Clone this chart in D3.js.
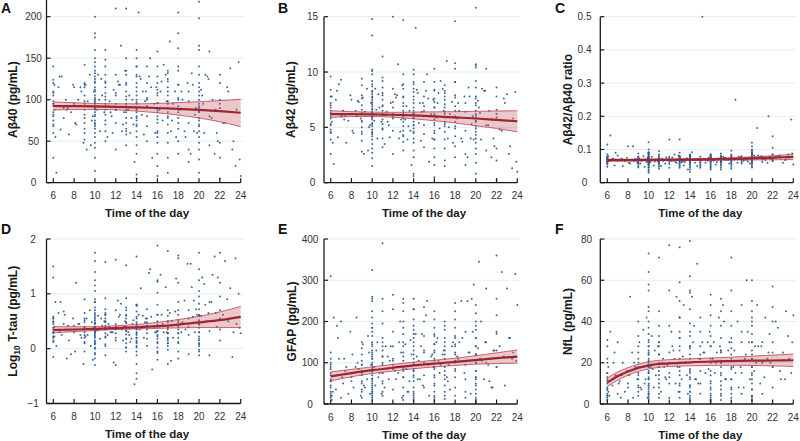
<!DOCTYPE html>
<html><head><meta charset="utf-8">
<script src="https://cdn.jsdelivr.net/npm/d3@7/dist/d3.min.js"></script>
<style>body{margin:0;background:#fff}svg{display:block;font-family:"Liberation Sans",Arial,Helvetica,sans-serif}</style>
</head><body><svg id="c" width="800" height="441"></svg>
<script>
// ---- data ----
const times = [
6,6,6,6,6,6,6,6,6,6.1,
6,6,6.1,6,6,6.3,6.5,6.7,6.8,7,
7,7.2,7.5,7.7,7.9,8,8.2,8.5,8.7,8.9,
9,9,9,9,9,9,9,9,9,9,
9.3,9.5,9.6,9.8,9.9,10,10,10,10,10,
10,10,10,10,10,10,10,10,10,10,
10,10,10,10,10,10,10,10,10,10,
10,10,10,10,10,10.2,10.3,10.5,10.7,10.9,
11,11,11,11,11,11,11,11,11,11,
11,11,11,11.2,11.4,11.6,11.8,12,12,12,
12,12,12,12,12.3,12.5,12.7,12.9,13,13,
13,13,13,13,13,13,13,13,13,13,
13,13,13.2,13.4,13.6,13.8,14,14,14,14,
14,14,14,14,14,14,14,14,14,14,
14,14,14,14,14,14.2,14.4,14.5,14.7,14.9,
15,15,15,15,15,15,15,15.3,15.5,15.7,
15.9,16,16,16,16,16,16,16,16,16,
16,16,16,16,16,16.3,16.5,16.8,17,17,
17,17,17,17,17,17,17,17,17,17,
17,17.2,17.5,17.8,18,18,18,18,18,18,
18,18,18,18,18,18,18.3,18.6,18.9,19,
19,19,19,19,19.3,19.6,19.8,20,20,20,
20,20,20,20,20,20,20,20,20,20,
20,20,20,20,20,20.3,20.5,20.8,21,21,
21,21.3,21.6,22,22,22,22,22,22,22.5,
22.8,23,23.3,23.5,23.8,24,21.5,19.5,8,7.3,
6.2,6.6,7.1,8.1,8.4,9.1,9.2,11.5,12.2,12.6,
13.5,14.6,15.2,16.6,17.3,18.4,19.2,20.6,21.8,23.2,
10,10,10,10,10,10,10,10,10,10,
11,11,11,11,11,13,13,13,13,13,
14,14,14,14,14,14,14,14,16,16,
16,16,16,16,16,17,17,17,17,17,
18,18,18,18,18,20,20,20,20,20,
20,20,20,9,9,9,9,12,12,15,
6,6,6,6,6,7.4,8.6,9.7,10.4,10.6,
11.3,11.7,12.4,12.8,13.3,13.7,14.3,14.8,15.4,15.8,
16.2,16.4,16.9,17.4,17.7,18.2,18.7,19.4,19.7,20.2,
20.4,20.9,21.2,21.7,22,22,22.3,22.7,23.6,23.9];

const abeta40 = [
85,92,110,75,60,124,140,98,30,88, 70,105,118,95,82,12,115,64,128,90,
78,100,58,85,118,95,70,92,110,48, 120,95,78,142,60,88,105,72,115,52,
98,130,45,80,110,200,180,150,135,128, 120,110,105,98,92,88,85,80,75,70,
65,60,55,48,42,30,14,100,95,115, 140,125,90,72,160,88,130,62,105,85,
130,115,108,100,95,88,82,75,62,50, 160,140,120,55,98,80,112,210,130,88,
105,72,40,95,118,165,70,135,150,120, 110,100,92,85,78,72,65,58,118,210,
45,130,88,60,100,25,160,150,140,130, 120,110,100,95,90,85,80,75,70,62,
55,45,35,10,5,205,125,82,58,110, 140,120,100,92,80,68,50,150,30,95,
115,158,140,128,112,105,96,88,80,72, 60,48,35,20,8,110,75,130,135,125,
115,105,98,90,85,78,70,60,48,30, 12,170,95,55,205,180,162,140,118,100,
92,85,78,65,50,35,110,62,120,98, 40,72,110,25,132,82,60,218,198,165,
140,120,110,100,95,90,85,78,70,62, 55,48,40,28,12,105,60,128,80,45,
158,100,88,120,95,90,48,30,5,72, 110,138,50,20,145,8,35,62,115,88,
55,128,92,72,100,118,40,85,122,62, 78,110,128,142,62,100,35,130,50,40,
175,145,132,122,112,102,96,90,82,68, 148,122,104,92,70,135,104,95,88,62,
140,128,115,105,97,88,78,68,120,108, 96,85,76,62,55,132,122,110,95,80,
135,118,102,88,72,160,130,115,105,92, 86,75,68,118,98,82,65,108,88,102,
120,108,95,80,68,90,115,75,100,125, 92,60,118,85,105,70,128,98,115,60,
88,122,98,75,110,88,55,118,90,112, 95,125,78,60,130,100,72,115,88,28];

const abeta42 = [
6.5,5.8,7.2,4.8,3.9,8.4,9.6,6.0,2.6,5.5, 4.5,6.8,7.8,6.2,5.2,1.7,7.5,4.1,8.9,6.0,
9.3,6.5,3.6,5.6,7.9,6.2,4.5,6.0,7.3,5.8, 8.8,6.3,5.0,9.4,3.8,5.6,7.0,4.6,7.6,2.8,
6.4,8.5,2.9,5.2,7.2,13.3,14.8,10.2,8.7,8.3, 7.8,7.3,6.9,6.4,6.0,5.7,5.4,5.1,4.8,4.5,
4.2,3.9,3.5,3.1,2.7,2.2,1.5,6.6,6.2,7.5, 9.2,8.0,5.9,4.6,10.1,5.6,8.5,4.0,6.8,5.5,
8.6,7.5,7.0,6.5,6.2,5.7,5.3,4.8,4.0,3.2, 11.4,9.2,7.9,3.5,6.4,5.2,7.2,15.0,8.5,5.8,
6.8,4.7,2.6,6.2,7.7,10.7,4.6,8.8,9.8,7.8, 7.2,6.5,6.0,5.5,5.1,4.7,4.2,3.7,7.7,14.7,
2.9,8.5,5.7,3.9,6.5,1.6,10.2,9.8,9.1,8.5, 7.8,7.2,6.5,6.2,5.9,5.5,5.2,4.9,4.5,4.0,
3.6,2.9,2.3,0.8,0.6,14.0,8.1,5.4,3.8,7.2, 9.1,7.8,6.5,6.0,5.2,4.4,3.2,9.8,1.9,6.2,
7.5,10.3,9.1,8.3,7.3,6.8,6.2,5.7,5.2,4.7, 3.9,3.1,2.3,1.6,0.5,7.2,4.9,8.5,8.8,8.1,
7.5,6.8,6.4,5.9,5.5,5.1,4.6,3.9,3.1,2.0, 1.5,11.0,6.2,3.6,14.6,10.8,10.3,9.1,7.7,6.5,
6.0,5.5,5.1,4.2,3.3,2.3,7.2,4.0,7.8,6.4, 2.6,4.7,7.2,1.6,8.6,5.3,3.9,15.8,10.7,10.6,
9.2,7.8,7.2,6.5,6.2,5.9,5.5,5.1,4.6,4.0, 3.6,3.1,2.6,1.8,0.8,6.8,3.9,8.3,5.2,2.9,
10.3,6.5,5.7,7.8,6.2,5.9,3.1,2.0,0.3,4.7, 7.2,8.0,3.3,1.3,8.2,1.0,2.3,4.0,7.5,5.7,
3.6,8.3,6.0,4.7,6.5,7.7,2.6,5.5,8.0,4.0, 5.1,7.2,8.3,9.2,4.0,6.5,2.3,8.5,3.3,2.6,
9.8,8.9,8.2,7.7,7.1,6.7,6.3,5.9,5.3,4.4, 9.5,8.1,6.9,6.1,4.9,8.9,6.9,6.3,5.8,4.3,
8.9,8.2,7.5,6.8,6.3,5.8,5.2,4.6,8.4,7.6, 6.8,6.0,5.4,4.5,3.9,8.3,7.8,7.1,6.2,5.3,
9.1,7.9,6.9,5.9,4.9,10.4,8.6,7.6,7.0,6.1, 5.6,4.9,4.3,7.9,6.6,5.5,4.4,7.3,6.0,6.9,
7.8,7.0,6.3,5.3,4.6,6.0,7.4,5.0,6.6,8.0, 6.1,4.1,7.9,5.7,6.9,4.7,8.4,6.4,7.6,4.0,
5.9,8.1,6.5,5.0,7.3,5.8,3.7,7.8,6.0,7.4, 6.3,8.3,5.2,4.0,8.6,6.6,4.8,7.6,5.8,1.9];

const ratio = [
.072,.065,.078,.060,.055,.085,.115,.070,.048,.066, .062,.075,.080,.068,.058,.142,.072,.052,.090,.067,
.082,.070,.050,.065,.075,.068,.058,.110,.072,.060, .078,.068,.060,.088,.050,.065,.074,.056,.070,.046,
.066,.080,.048,.062,.075,.122,.100,.092,.085,.078, .075,.072,.069,.066,.063,.061,.058,.055,.052,.048,
.045,.040,.035,.030,.070,.067,.064,.070,.068,.080, .090,.074,.060,.056,.088,.062,.078,.052,.070,.064,
.080,.074,.070,.066,.063,.060,.057,.053,.048,.042, .095,.085,.072,.050,.066,.058,.070,.130,.078,.062,
.070,.056,.045,.068,.076,.085,.060,.082,.090,.073, .076,.071,.067,.063,.060,.057,.053,.049,.080,.130,
.045,.078,.062,.052,.070,.040,.082,.078,.075,.072, .082,.078,.074,.070,.067,.064,.061,.058,.055,.050,
.046,.040,.032,.075,.085,.092,.068,.060,.050,.070, .078,.070,.063,.060,.055,.050,.045,.072,.060,.066,
.068,.085,.080,.076,.072,.068,.064,.060,.056,.052, .048,.044,.040,.070,.062,.066,.055,.072,.088,.082,
.078,.074,.070,.067,.063,.060,.056,.052,.046,.040, .065,.078,.068,.058,.096,.085,.080,.075,.070,.066,
.062,.058,.054,.048,.042,.072,.070,.060,.078,.068, .058,.070,.080,.062,.075,.064,.058,.072,.060,.065,
.110,.100,.092,.085,.080,.076,.072,.068,.064,.060, .055,.050,.046,.120,.062,.075,.165,.078,.070,.062,
.078,.068,.200,.085,.072,.066,.105,.140,.065,.080, .075,.060,.070,.085,.190,.055,.060,.070,.110,.068,
.066,.072,.068,.060,.070,.072,.058,.068,.065,.062, .062,.070,.500,.062,.075,.250,.066,.082,.072,.068,
.056,.062,.065,.068,.070,.073,.076,.080,.085,.090, .064,.066,.068,.072,.075,.066,.068,.070,.074,.078,
.065,.068,.070,.072,.074,.076,.078,.082,.070,.074, .072,.075,.078,.082,.085,.062,.066,.070,.072,.076,
.066,.069,.072,.076,.080,.068,.072,.075,.078,.084, .088,.092,.096,.066,.070,.074,.078,.068,.074,.070,
.064,.068,.071,.074,.078,.072,.065,.070,.068,.064, .072,.076,.066,.070,.064,.074,.068,.072,.070,.075,
.069,.071,.073,.075,.068,.072,.078,.070,.076,.082, .074,.080,.072,.078,.085,.070,.076,.082,.075,.088];

const logTtau = [
.35,.20,.45,.15,.55,.28,1.5,1.3,-.15,.40, .30,.50,.22,.58,.38,.05,.65,.85,.25,.45,
.68,.35,.15,-.1,.55,.30,1.2,.45,.20,-.28, .55,.40,.30,.20,.10,.65,.90,-.05,.35,.48,
.25,.70,.05,-.20,.40,1.75,1.6,1.4,1.25,1.05, .9,.75,.65,.58,.52,.46,.40,.35,.30,.25,
.20,.15,.08,0,-.08,-.18,-.3,.38,.32,.55, .70,.45,.28,.10,.85,.33,.60,.18,.42,.50,
.72,.62,.55,.48,.42,.35,.28,.20,.05,-.12, 1.58,.92,.65,.25,.40,.30,-.25,1.62,.70,.15,
.45,.20,-.3,.35,.58,.82,.15,.50,.92,.62, .55,.47,.40,.33,.26,.18,.10,.02,1.52,.75,
-.05,.60,.30,.12,.45,-.65,.80,.68,.55,.48, .42,.36,.30,.25,.20,.15,.10,.05,-.05,-.12,
-.28,-.45,-.55,1.68,.80,.62,1.1,.38,.20,.55, .72,.55,.42,.35,.28,.18,.05,1.45,-.38,.40,
.30,1.88,1.25,1.02,.80,.62,.50,.40,.32,.25, .18,.10,.02,-.08,-.2,1.35,.45,1.12,.70,.60,
.50,.42,.35,.28,.20,.15,.10,.05,-.02,-.28, 1.78,.65,.20,1.28,1.7,1.2,.85,.62,.48,.35,
.28,.20,.10,-.05,-.18,1.65,.30,.88,1.55,.70, .55,.40,.25,-.1,1.12,.30,.62,1.75,1.25,.95,
.72,.60,.52,.45,.38,.30,.22,.15,.05,-.05, -.12,.10,1.05,.45,.60,1.3,1.18,.50,.85,.32,
-.12,1.35,.65,1.75,1.2,.95,.55,.35,.15,1.6, .50,1.1,.30,1.65,1.0,.28,1.68,.88,.42,-.18,
.85,.30,.62,-.05,.45,.22,.55,.30,.88,.35, .18,.60,1.38,.30,-.22,.48,1.55,.80,1.3,-.15,
1.15,.85,.62,.48,.40,.32,.22,.12,.02,-.10, .62,.50,.38,.22,.08,.70,.48,.32,.18,.02,
.78,.58,.45,.35,.28,.20,.12,.02,.62,.44, .32,.22,.12,-.05,1.22,.48,.38,.28,.18,.10,
.70,.52,.40,.28,.12,.82,.62,.44,.30,.18, .08,-.02,1.45,.52,.38,.25,.12,.40,.28,.48,
.22,.30,.48,.55,.12,.42,.25,.48,.36,.55, .45,.30,.62,.40,.25,.52,.35,.48,.58,.30,
.40,.62,.30,.50,.68,.45,.35,.58,.72,.60, .48,.65,.85,.40,.70,.52,.62,.90,.45,.38];

const gfap = [
15,25,40,60,85,100,125,310,30,10, 45,70,20,95,55,210,35,160,110,15,
200,50,90,25,175,65,40,210,85,20, 150,120,95,70,50,30,15,105,135,80,
40,60,165,25,95,325,260,250,225,195, 175,150,130,115,100,90,80,70,60,50,
40,35,30,25,20,15,10,120,85,140, 255,55,185,30,110,90,45,150,75,25,
390,255,225,195,160,130,100,75,50,30, 20,150,115,40,85,60,140,230,175,95,
265,35,140,105,60,75,200,15,255,245, 225,200,170,140,115,90,65,40,20,185,
10,80,145,30,55,120,255,230,205,180, 160,140,120,100,85,70,55,40,30,20,
15,10,25,230,80,170,60,105,140,45, 235,200,165,130,100,70,40,250,20,115,
90,225,205,185,165,145,125,105,85,65, 45,30,20,10,15,160,75,120,200,180,
160,140,120,100,80,60,45,30,20,12, 190,65,35,150,245,225,205,185,165,145,
125,105,85,65,40,20,110,250,75,175, 95,60,30,15,125,255,290,240,220,200,
180,160,140,120,100,80,65,50,35,25, 15,10,5,65,120,345,200,60,100,280,
150,55,40,360,255,215,175,130,90,320, 45,280,160,110,315,240,40,25,55,110,
30,190,65,120,90,145,45,115,80,150, 30,60,215,95,55,150,250,105,130,160,
210,185,165,145,125,110,95,78,62,45, 140,115,95,75,55,150,125,105,85,65,
190,170,150,130,110,95,80,65,170,145, 130,110,90,70,50,150,130,110,90,70,
160,140,120,100,80,190,160,140,120,100, 80,60,45,95,75,55,35,110,85,125,
55,75,90,110,20,80,100,125,130,65, 140,105,90,125,85,155,115,170,95,120,
150,105,130,95,140,115,160,125,175,135, 110,150,95,130,170,90,140,115,125,105];

const nfl = [
3,5,8,10,13,15,20,28,31,6, 4,12,18,2,7,35,9,25,14,5,
30,11,20,6,16,8,52,3,18,12, 40,33,25,18,12,8,4,22,28,15,
7,36,10,42,3,73,64,58,45,40, 37,34,31,28,25,22,19,16,13,10,
8,6,4,2,20,18,30,15,24,9, 55,26,12,5,47,18,33,8,14,28,
38,33,28,24,20,16,12,8,5,3, 71,45,30,6,22,13,19,77,55,25,
15,10,3,38,28,22,52,6,42,18, 59,50,42,35,28,22,16,10,6,76,
3,32,12,48,20,5,62,54,46,39, 33,28,24,20,16,12,9,6,4,2,
79,55,8,15,27,52,38,12,68,22, 42,35,28,22,16,10,5,25,15,30,
35,53,48,43,38,33,28,22,16,11, 8,5,3,2,1,30,20,42,51,45,
38,32,26,20,15,11,7,4,2,25, 18,48,12,30,71,55,45,38,32,27,
22,17,12,8,5,3,26,40,18,35, 48,30,15,5,22,35,12,60,50,42,
38,34,30,26,22,18,14,10,7,4, 3,2,22,40,15,28,48,10,30,20,
5,42,25,57,47,40,30,18,8,37, 12,25,45,33,15,43,22,60,10,3,
4,20,10,14,25,30,8,18,35,10, 20,12,30,25,40,15,8,28,20,12,
28,24,21,18,15,12,9,7,5,3, 30,24,18,14,10,32,26,20,14,9,
35,28,22,17,13,9,6,3,28,20, 14,10,7,4,2,26,20,14,9,5,
30,24,18,12,7,30,24,18,12,7, 4,2,45,20,14,9,6,20,13,24,
7,11,15,22,4,14,20,12,17,26, 20,12,26,18,23,14,30,10,25,17,
22,15,28,12,26,18,8,24,30,16, 20,28,13,34,18,25,40,16,22,30];

// fitted curves (mean and 95% CI) at these hours
const fitX = [6,7,8,10,12,14,16,18,20,22,24];
const fitA = [92.4,92.3,92.2,91.9,91.4,90.8,90.0,89.0,87.8,86.2,84.3];
const loA  = [87.6,87.9,88.2,88.3,87.8,86.3,84.3,81.5,78,73.5,67.5];
const hiA  = [97.4,96.8,96.3,95.5,95.0,95.0,95.5,96.5,97.6,98.9,100.5];
const fitB = [6.2,6.2,6.2,6.18,6.14,6.08,6.0,5.9,5.8,5.68,5.55];
const loB  = [5.9,5.94,5.98,5.98,5.92,5.78,5.6,5.4,5.15,4.9,4.6];
const hiB  = [6.5,6.46,6.42,6.38,6.36,6.38,6.4,6.42,6.45,6.48,6.5];
const fitC = [.068,.068,.068,.0685,.069,.0695,.070,.0715,.073,.0755,.078];
const loC  = [.065,.0652,.0655,.066,.0665,.067,.0675,.068,.0685,.069,.0695];
const hiC  = [.071,.0707,.0705,.071,.0715,.072,.073,.075,.0775,.081,.086];
const fitD = [.34,.345,.35,.36,.375,.39,.41,.44,.48,.52,.58];
const loD  = [.29,.30,.31,.33,.35,.36,.37,.38,.385,.385,.385];
const hiD  = [.40,.40,.40,.40,.42,.44,.48,.53,.59,.67,.77];
const fitE = [67,71,75,82,88,93.5,98,102,106.5,111,115];
const loE  = [56,61,66,74,80,85.5,90,93.5,96.5,98,99];
const hiE  = [78,81,84,90,96,101.5,106,111,117,124,131];
const fitF = [10.5,13.5,15.8,18.7,19.7,20.2,20.6,20.8,21,21.1,21.2];
const loF  = [8.5,11.5,14,17,18.2,18.5,18.7,18.8,18.7,18.5,18.2];
const hiF  = [12.6,15.5,17.6,20.5,21.5,21.9,22.3,22.7,23.2,23.7,24.2];

const xTicks = [6,8,10,12,14,16,18,20,22,24];
const ticksA = [0,50,100,150,200];
const ticksB = [0,5,10,15];
const ticksC = [0,0.1,0.2,0.3,0.4,0.5];
const ticksD = [-1,0,1,2];
const ticksE = [0,100,200,300,400];
const ticksF = [0,20,40,60,80];

// ---- layout ----
const panels = [
 {letter:"A", title:"Aβ40 (pg/mL)", vals:abeta40, fit:fitA, lo:loA, hi:hiA, ticks:ticksA, fmt:d3.format("d"),
  ax:46.5, x0:53.3, x1:240.7, yb:182.7, yt:16.7, axTop:0, lx:1, ly:13, tx:12, labx:33.5},
 {letter:"B", title:"Aβ42 (pg/mL)", vals:abeta42, fit:fitB, lo:loB, hi:hiB, ticks:ticksB, fmt:d3.format("d"),
  ax:324, x0:330.7, x1:517.3, yb:182.7, yt:16.7, lx:278, ly:13, tx:290, labx:312.5},
 {letter:"C", title:"Aβ42/Aβ40 ratio", vals:ratio, fit:fitC, lo:loC, hi:hiC, ticks:ticksC, fmt:v=>v===0?"0":d3.format(".1f")(v),
  ax:600.3, x0:607.3, x1:793.3, yb:182.7, yt:16.7, lx:555, ly:13, tx:567, labx:584.5},
 {letter:"D", title:"LOG", vals:logTtau, fit:fitD, lo:loD, hi:hiD, ticks:ticksD, fmt:d3.format("d"),
  ax:46.5, x0:53.3, x1:240.7, yb:403.5, yt:239, lx:1, ly:234, tx:12, labx:33},
 {letter:"E", title:"GFAP (pg/mL)", vals:gfap, fit:fitE, lo:loE, hi:hiE, ticks:ticksE, fmt:d3.format("d"),
  ax:324, x0:330.7, x1:517.3, yb:404, yt:239, lx:278, ly:234, tx:291, labx:310},
 {letter:"F", title:"NfL (pg/mL)", vals:nfl, fit:fitF, lo:loF, hi:hiF, ticks:ticksF, fmt:d3.format("d"),
  ax:600.3, x0:607.3, x1:793.3, yb:404, yt:239, lx:555, ly:234, tx:567, labx:586.5}
];

const svg = d3.select("#c");
const ink = "#1a1a1a";

panels.forEach(p => {
  const g = svg.append("g");
  const x = d3.scaleLinear().domain([6,24]).range([p.x0,p.x1]);
  const t = p.ticks;
  const y = d3.scaleLinear().domain([t[0], t[t.length-1]]).range([p.yb,p.yt]);

  // grid
  g.selectAll(".grid").data(t.slice(1)).join("line")
    .attr("x1",p.ax).attr("x2",p.x1+3).attr("y1",d=>y(d)).attr("y2",d=>y(d))
    .attr("stroke","#e4eef3").attr("stroke-width",1);

  // points
  const pts = times.map((tm,i)=>[tm,p.vals[i]]).filter(d=>d[1]!=null && d[1]>=t[0] && d[1]<=t[t.length-1]*1.1);
  g.selectAll(".pt").data(pts).join("circle")
    .attr("cx",d=>x(d[0])).attr("cy",d=>y(d[1])).attr("r",1.0)
    .attr("fill","#285b8e").attr("fill-opacity",0.9);

  // band
  const band = fitX.map((fx,i)=>({x:fx,lo:p.lo[i],hi:p.hi[i],m:p.fit[i]}));
  g.append("path").datum(band)
    .attr("d", d3.area().curve(d3.curveMonotoneX).x(d=>x(d.x)).y0(d=>y(d.lo)).y1(d=>y(d.hi)))
    .attr("fill","#c45560").attr("fill-opacity",0.32);
  ["lo","hi"].forEach(k=>{
    g.append("path").datum(band)
      .attr("d", d3.line().curve(d3.curveMonotoneX).x(d=>x(d.x)).y(d=>y(d[k])))
      .attr("fill","none").attr("stroke","#b8434f").attr("stroke-width",0.8);
  });
  g.append("path").datum(band)
    .attr("d", d3.line().curve(d3.curveMonotoneX).x(d=>x(d.x)).y(d=>y(d.m)))
    .attr("fill","none").attr("stroke","#9e2530").attr("stroke-width",2.2);

  // y axis
  const yTopLine = (p.axTop!==undefined) ? p.axTop : p.yt;
  g.append("line").attr("x1",p.ax).attr("x2",p.ax).attr("y1",yTopLine).attr("y2",p.yb)
    .attr("stroke",ink).attr("stroke-width",1.3);
  g.selectAll(".yt").data(t).join("line")
    .attr("x1",p.ax).attr("x2",p.ax+4).attr("y1",d=>y(d)).attr("y2",d=>y(d))
    .attr("stroke",ink).attr("stroke-width",1.2);
  g.selectAll(".yl").data(t).join("text")
    .attr("x",p.labx).attr("y",d=>y(d)+3.5).attr("text-anchor","middle")
    .attr("font-size",10).attr("fill","#333").text(p.fmt);

  // x axis
  g.append("line").attr("x1",p.ax).attr("x2",p.x1).attr("y1",p.yb).attr("y2",p.yb)
    .attr("stroke",ink).attr("stroke-width",1.3);
  g.selectAll(".xt").data(xTicks).join("line")
    .attr("x1",d=>x(d)).attr("x2",d=>x(d)).attr("y1",p.yb).attr("y2",p.yb-4.5)
    .attr("stroke",ink).attr("stroke-width",1.2);
  g.selectAll(".xl").data(xTicks).join("text")
    .attr("x",d=>x(d)).attr("y",p.yb+16.5).attr("text-anchor","middle")
    .attr("font-size",10).attr("fill","#333").text(d=>d);
  g.append("text").attr("x",(p.x0+p.x1)/2).attr("y",p.yb+34.5).attr("text-anchor","middle")
    .attr("font-size",11.5).attr("font-weight","bold").attr("fill",ink).text("Time of the day");

  // y title
  const ty = (p.yb+p.yt)/2;
  const tt = g.append("text").attr("transform",`translate(${p.tx+4.5},${ty}) rotate(-90)`)
    .attr("text-anchor","middle").attr("font-size",12).attr("font-weight","bold").attr("fill",ink);
  if (p.title==="LOG") {
    tt.append("tspan").text("Log");
    tt.append("tspan").attr("font-size",8.5).attr("dy",3).text("10");
    tt.append("tspan").attr("dy",-3).text(" T-tau (pg/mL)");
  } else tt.text(p.title);

  // letter
  g.append("text").attr("x",p.lx).attr("y",p.ly).attr("font-size",14).attr("font-weight","bold")
    .attr("fill","#111").text(p.letter);
});
</script>
</body></html>
